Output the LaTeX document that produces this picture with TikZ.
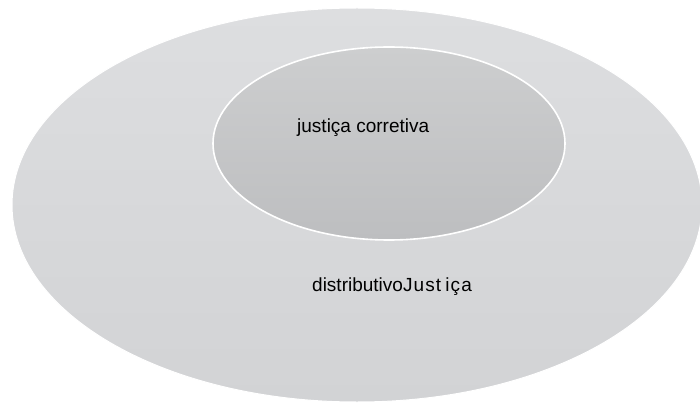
\documentclass[tikz,border=0pt]{standalone}
\usepackage{fontspec}
\setmainfont{Liberation Sans}
\usetikzlibrary{shapes.geometric}
\definecolor{outertop}{HTML}{DDDEE0}
\definecolor{outerbot}{HTML}{D2D3D5}
\definecolor{innertop}{HTML}{CDCECF}
\definecolor{innerbot}{HTML}{BDBEC0}
\tikzset{
  region/.style={ellipse, inner sep=0pt, shading=axis, shading angle=0},
  label/.style={anchor=base west, inner sep=0pt, text=black, font=\fontsize{19}{22}\selectfont}
}
\begin{document}
\begin{tikzpicture}[x=1pt, y=-1pt]
\useasboundingbox (0,0) rectangle (700,403);
\node[region, minimum width=690pt, minimum height=394pt, top color=outertop, bottom color=outerbot, draw=white, line width=1pt] (outer) at (357,205) {};
\node[region, minimum width=352pt, minimum height=193pt, top color=innertop, bottom color=innerbot, draw=white, line width=1.6pt] (inner) at (389,143.5) {};
\node[label] (corr) at (297,133) {justiça corretiva};
\node[label] (dist) at (312,291) {distributivo{\addfontfeatures{LetterSpace=6}Just\kern4pt iça}};
\end{tikzpicture}
\end{document}
